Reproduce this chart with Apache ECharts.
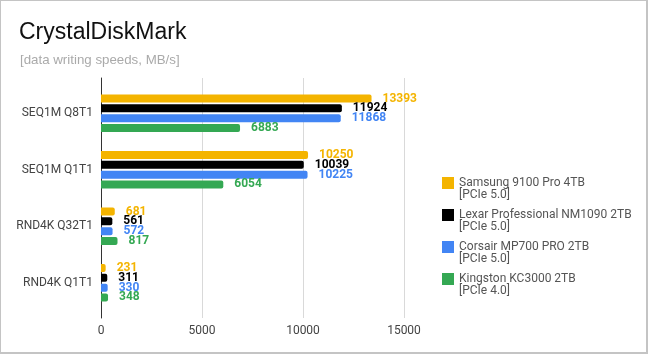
<!DOCTYPE html>
<html><head><meta charset="utf-8">
<script src="https://cdn.jsdelivr.net/npm/echarts@6/dist/echarts.min.js"></script>
<style>
html,body{margin:0;padding:0;background:#fff;}
#frame{position:absolute;left:0;top:0;width:645px;height:351px;border:1px solid #c4c4c4;border-right-width:2px;border-bottom-width:2px;}
#c{position:absolute;left:0;top:0;width:648px;height:355px;}
</style></head>
<body>
<div id="c"></div>
<div id="frame"></div>
<script>
const categories = ['SEQ1M Q8T1', 'SEQ1M Q1T1', 'RND4K Q32T1', 'RND4K Q1T1'];
const seriesNames = [
  'Samsung 9100 Pro 4TB\n[PCIe 5.0]',
  'Lexar Professional NM1090 2TB\n[PCIe 5.0]',
  'Corsair MP700 PRO 2TB\n[PCIe 5.0]',
  'Kingston KC3000 2TB\n[PCIe 4.0]'
];
const samsung = [13393, 10250, 681, 231];
const lexar = [11924, 10039, 561, 311];
const corsair = [11868, 10225, 572, 330];
const kingston = [6883, 6054, 817, 348];
const colors = ['#F4B400', '#000000', '#4285F4', '#34A853'];
const xTicks = [0, 5000, 10000, 15000];

const values = [samsung, lexar, corsair, kingston];
const chart = echarts.init(document.getElementById('c'));
const font = 'Arial, "Liberation Sans", sans-serif';
const rfont = 'Roboto, Arial, sans-serif';

chart.setOption({
  animation: false,
  color: colors,
  title: [
    {text: 'CrystalDiskMark', left: 14, top: 16,
     textStyle: {fontFamily: font, fontSize: 23, fontWeight: 'normal', color: '#111'}},
    {text: '[data writing speeds, MB/s]', left: 15, top: 49,
     textStyle: {fontFamily: font, fontSize: 13.3, fontWeight: 'normal', color: '#aaaaaa'}}
  ],
  legend: {
    orient: 'vertical', left: 442, top: 165, padding: 0,
    itemWidth: 12, itemHeight: 12, itemGap: -4,
    icon: 'rect',
    data: seriesNames,
    formatter: n => '\n' + n,
    textStyle: {fontFamily: rfont, fontSize: 12, color: '#555', lineHeight: 12}
  },
  grid: [
    {left: 101, width: 303, top: 78, height: 240},
    {left: 101, width: 303, top: 85, height: 226}
  ],
  xAxis: [
    {gridIndex: 0, type: 'value', min: xTicks[0], max: xTicks[xTicks.length - 1], interval: 5000,
     axisLine: {show: false}, axisTick: {show: false},
     axisLabel: {fontFamily: rfont, fontSize: 12, color: '#444', margin: 7, formatter: v => String(v)},
     splitLine: {lineStyle: {color: '#d9d9d9', width: 1}}},
    {gridIndex: 1, type: 'value', min: xTicks[0], max: xTicks[xTicks.length - 1], show: false}
  ],
  yAxis: [
    {gridIndex: 0, type: 'category', data: categories, inverse: true,
     axisLine: {show: true, lineStyle: {color: '#333', width: 1}},
     axisTick: {show: false}, axisLabel: {show: false}, splitLine: {show: false}},
    {gridIndex: 1, type: 'category', data: categories, inverse: true,
     axisLine: {show: false}, axisTick: {show: false},
     axisLabel: {fontFamily: rfont, fontSize: 12, color: '#444', margin: 8}}
  ],
  series: values.map((v, i) => ({
    name: seriesNames[i], type: 'bar', xAxisIndex: 1, yAxisIndex: 1,
    data: v, barWidth: 8, barGap: '22%',
    itemStyle: {color: colors[i], borderRadius: [0, 2, 2, 0]},
    label: {show: true, position: 'right', distance: 11,
      fontFamily: rfont, fontSize: 12, fontWeight: 'bold', color: colors[i]}
  }))
});
</script>
</body></html>
